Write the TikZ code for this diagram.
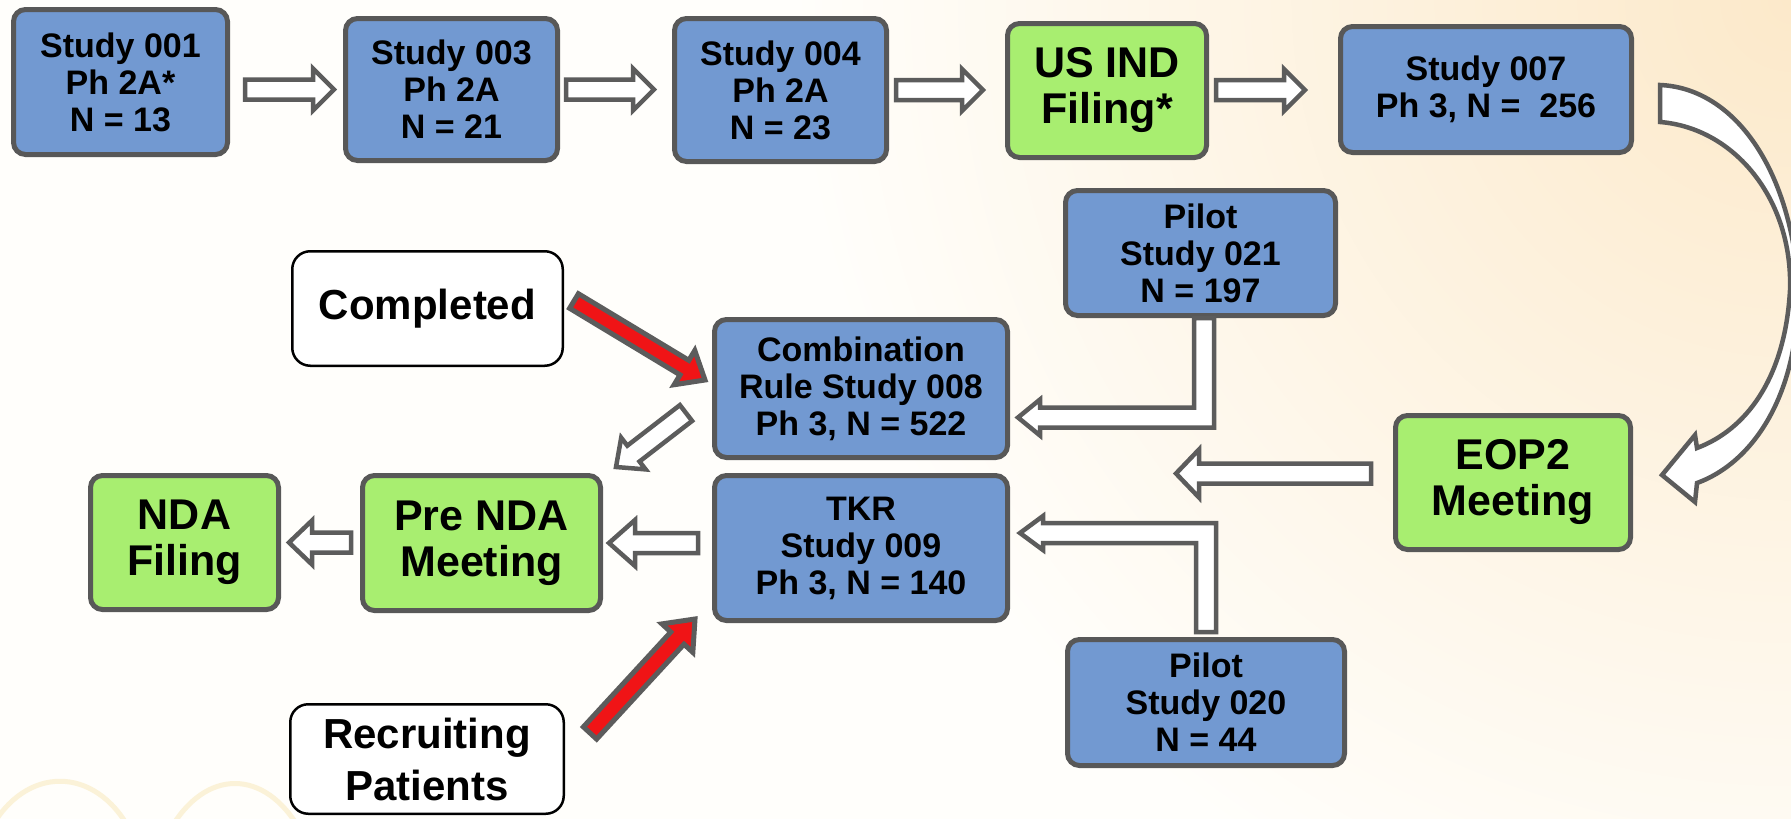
\documentclass[tikz,border=0pt]{standalone}
\usepackage{fontspec}
\setmainfont{Liberation Sans}
\usetikzlibrary{calc}
\definecolor{bg}{RGB}{255,254,251}
\definecolor{glow}{RGB}{252,233,202}
\definecolor{boxblue}{RGB}{114,153,209}
\definecolor{boxgreen}{RGB}{168,238,112}
\definecolor{bordergray}{RGB}{88,88,88}
\definecolor{arrowgray}{RGB}{92,92,92}
\definecolor{arrowred}{RGB}{240,20,22}
\definecolor{swirl}{RGB}{251,242,216}
\tikzset{
  shaftw/.store in=\bsw, headw/.store in=\bhw, headl/.store in=\bhl,
  shaftw=10pt, headw=21pt, headl=21pt,
  blockarrow/.style={to path={let \p1=(\tikztostart), \p2=(\tikztotarget),
      \n1={atan2(\y2-\y1,\x2-\x1)} in
      ($(\p1)+(\n1+90:\bsw)$) -- ($(\p2)+(\n1+180:\bhl)+(\n1+90:\bsw)$)
      -- ($(\p2)+(\n1+180:\bhl)+(\n1+90:\bhw)$) -- (\p2)
      -- ($(\p2)+(\n1+180:\bhl)+(\n1-90:\bhw)$) -- ($(\p2)+(\n1+180:\bhl)+(\n1-90:\bsw)$)
      -- ($(\p1)+(\n1-90:\bsw)$) -- cycle}},
  elbowarrow/.style={to path={let \p1=(\tikztostart), \p2=(\tikztotarget),
      \n1={sign(\y1-\y2)} in
      ({\x1-\bsw},{\y1}) -- ({\x1-\bsw},{\y2+\n1*\bsw}) -- ({\x2+\bhl},{\y2+\n1*\bsw})
      -- ({\x2+\bhl},{\y2+\n1*\bhw}) -- (\p2) -- ({\x2+\bhl},{\y2-\n1*\bhw})
      -- ({\x2+\bhl},{\y2-\n1*\bsw}) -- ({\x1+\bsw},{\y2-\n1*\bsw}) -- ({\x1+\bsw},{\y1}) -- cycle}},
  box/.style={draw=bordergray, line width=5pt, rounded corners=12pt, align=center, inner sep=0pt},
  bluebox/.style={box, fill=boxblue, font=\bfseries\fontsize{34}{37}\selectfont},
  greenbox/.style={box, fill=boxgreen, font=\bfseries\fontsize{43}{46}\selectfont},
  whitebox/.style={draw=black, line width=2.5pt, rounded corners=18pt, fill=white, align=center,
    inner sep=0pt, font=\bfseries\fontsize{42}{52}\selectfont},
  wa/.style={draw=arrowgray, line width=4.5pt, fill=white, line join=miter},
  ra/.style={draw=arrowgray, line width=5pt, fill=arrowred, line join=miter},
}
\begin{document}
\begin{tikzpicture}[x=1pt,y=-1pt]
\useasboundingbox (0,0) rectangle (1791,819);
\fill[bg] (0,0) rectangle (1791,819);
\begin{scope}
\clip (0,0) rectangle (1791,819);
\shade[inner color=glow, outer color=bg] (1791,0) circle (1000);
\draw[swirl, line width=5pt] (-10,830) .. controls (25,765) and (95,765) .. (130,830);
\draw[swirl, line width=5pt] (170,830) .. controls (205,768) and (265,768) .. (300,830);
\end{scope}

% boxes
\node[bluebox, minimum width=214pt, minimum height=145pt] (s001) at (120.5,82) {Study 001\\Ph 2A*\\N = 13};
\node[bluebox, minimum width=212pt, minimum height=142pt] (s003) at (451.5,89.5) {Study 003\\Ph 2A\\N = 21};
\node[bluebox, minimum width=212pt, minimum height=143pt] (s004) at (780.5,90) {Study 004\\Ph 2A\\N = 23};
\node[greenbox, minimum width=199pt, minimum height=134pt] (ind) at (1107,90.5) {US IND\\Filing*};
\node[bluebox, minimum width=291pt, minimum height=126pt] (s007) at (1486,89.5) {Study 007\\Ph 3, N = \ 256};
\node[bluebox, minimum width=270pt, minimum height=125pt] (p021) at (1200.5,253) {Pilot\\Study 021\\N = 197};
\node[whitebox, minimum width=270.5pt, minimum height=114.5pt] (comp) at (427.5,308.5) {Completed};
\node[bluebox, minimum width=293pt, minimum height=138pt] (s008) at (861,388.5) {Combination\\Rule Study 008\\Ph 3, N = 522};
\node[greenbox, minimum width=235pt, minimum height=134pt] (eop2) at (1513,482.5) {EOP2\\Meeting};
\node[greenbox, minimum width=188pt, minimum height=134pt] (nda) at (184.5,542.5) {NDA\\Filing};
\node[greenbox, minimum width=238pt, minimum height=135pt] (prenda) at (481.5,543) {Pre NDA\\Meeting};
\node[bluebox, minimum width=293pt, minimum height=145pt] (tkr) at (861,548) {TKR\\Study 009\\Ph 3, N = 140};
\node[bluebox, minimum width=277pt, minimum height=126pt] (p020) at (1206,702.5) {Pilot\\Study 020\\N = 44};
\node[whitebox, minimum width=273.5pt, minimum height=109.5pt] (recr) at (427,759) {Recruiting\\Patients};

% free end of the EOP2 arrow
\coordinate (eopend) at (1176,473.5);

% top row arrows
\draw[wa] ([xshift=15pt]s001.east |- s003.center) to[blockarrow] ([xshift=-9pt]s003.west);
\draw[wa] ([xshift=6pt]s003.east) to[blockarrow] ([xshift=-18pt]s004.west |- s003.center);
\draw[wa] ([xshift=7pt]s004.east) to[blockarrow] ([xshift=-22pt]ind.west |- s004.center);
\draw[wa] ([xshift=7pt]ind.east |- s004.center) to[blockarrow] ([xshift=-33pt]s007.west |- s004.center);

% curved arrow Study 007 -> EOP2
\draw[wa] (1660,85) .. controls (1730,88) and (1785,160) .. (1797,270)
  .. controls (1805,380) and (1760,460) .. (1697,483) -- (1695,502) -- (1662,475)
  -- (1695,435) -- (1697,448) .. controls (1745,430) and (1785,380) .. (1790,290)
  .. controls (1793,200) and (1735,128) .. (1660,122) -- cycle;

% elbow arrows from the pilot studies
\draw[wa, shaftw=10pt, headw=18pt, headl=22pt] ([xshift=3.5pt]p021.south) to[elbowarrow] ($(s008.east)+(8,29)$);
\draw[wa, shaftw=10pt, headw=17pt, headl=23pt] ([yshift=5pt]p020.north) to[elbowarrow] ($(tkr.east)+(10,-15)$);

% EOP2 -> gap
\draw[wa, shaftw=10pt, headw=24pt, headl=23pt] ([xshift=-22pt]eop2.west |- eopend) to[blockarrow] (eopend);

% lower row
\draw[wa, shaftw=10pt, headw=23pt, headl=26pt] ([xshift=-14pt]tkr.west |- prenda.center) to[blockarrow] ([xshift=6pt]prenda.east);
\draw[wa, shaftw=10pt, headw=22pt, headl=23pt] ([xshift=-9pt]prenda.west |- nda.center) to[blockarrow] ([xshift=8pt]nda.east);
\draw[wa, shaftw=10pt, headw=20pt, headl=22pt] ($(s008.west)+(-26,24.5)$) to[blockarrow] ($(prenda.north east)+(13,-6)$);

% red arrows
\draw[ra, shaftw=8.5pt, headw=20pt, headl=24pt] ($(comp.east)+(10,-7.5)$) to[blockarrow] ($(s008.west)+(-7,-8.5)$);
\draw[ra, shaftw=9pt, headw=21pt, headl=26pt] ($(recr.east)+(25,-26)$) to[blockarrow] ($(tkr.south west)+(-17,-4)$);
\end{tikzpicture}
\end{document}
